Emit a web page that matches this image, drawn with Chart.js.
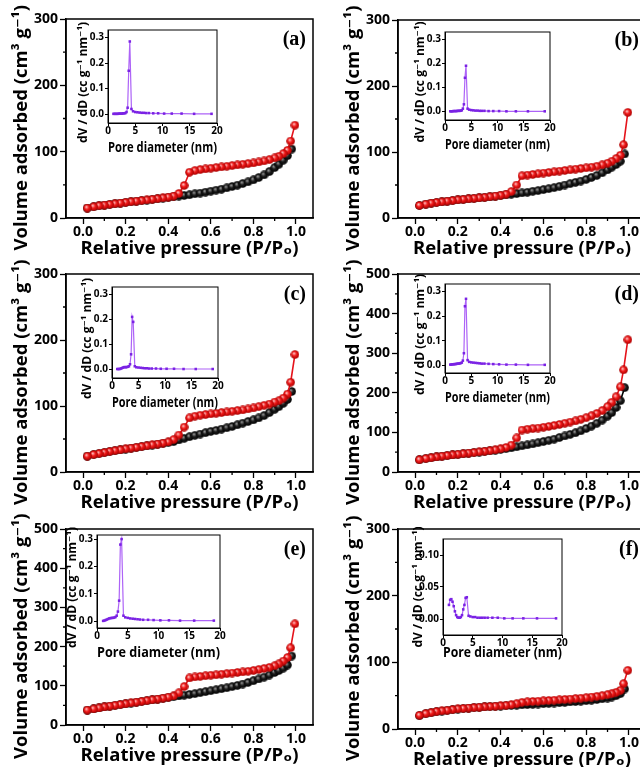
<!DOCTYPE html>
<html>
<head>
<meta charset="utf-8">
<title>N2 sorption isotherms (a)-(f)</title>
<script src="https://cdn.jsdelivr.net/npm/chart.js@4.4.1/dist/chart.umd.min.js"></script>
<style>
  html, body { margin: 0; padding: 0; background: #fff; }
  body { position: relative; width: 640px; height: 767px; overflow: hidden; }
  canvas { position: absolute; }
</style>
</head>
<body>
<script>
// ---- values ----

// relative pressure of the adsorption and desorption branches
const adsP = [0.02, 0.05, 0.075, 0.10, 0.125, 0.15, 0.175, 0.20, 0.225, 0.25, 0.275, 0.30, 0.325, 0.35, 0.375, 0.40, 0.425, 0.45, 0.475, 0.50,
  0.525, 0.55, 0.575, 0.60, 0.625, 0.65, 0.675, 0.70, 0.725, 0.75, 0.775, 0.80, 0.825, 0.85, 0.875, 0.90, 0.92, 0.94, 0.96, 0.98];
const desP = [0.995, 0.975, 0.96, 0.94, 0.92, 0.90, 0.875, 0.85, 0.825, 0.80, 0.775, 0.75, 0.725, 0.70, 0.675, 0.65, 0.625, 0.60, 0.575, 0.55,
  0.525, 0.50, 0.475, 0.45, 0.425, 0.40, 0.375, 0.35, 0.325, 0.30, 0.275, 0.25, 0.225, 0.20, 0.175, 0.15, 0.125, 0.10, 0.075, 0.05, 0.02];

// volume adsorbed (cm3/g)
const adsA = [15, 17, 18.5, 19.5, 20.5, 21.5, 22.5, 23.5, 24.5, 25.3, 26.2, 27, 28, 29, 30, 31, 32, 33, 34, 35,
  36.5, 37.5, 39, 40.5, 42, 43.5, 45.5, 47.5, 49.5, 52, 54.5, 57.5, 61, 65, 70, 76, 81, 87, 94, 104];
const desA = [140, 116, 102, 97, 93, 90.5, 88, 86, 84.5, 83, 82, 81, 80, 79, 78, 77, 76, 75, 74, 73,
  71.5, 69, 49, 37, 33, 31.5, 30.3, 29.2, 28.2, 27.2, 26.3, 25.4, 24.5, 23.5, 22.5, 21.5, 20.5, 19.5, 18.5, 17, 15];

const adsB = [19, 21, 22.5, 23.5, 24.5, 25.5, 26.5, 27.5, 28.3, 29, 29.8, 30.5, 31.3, 32, 33, 34, 35, 36, 37, 38,
  39, 40.5, 41.5, 43, 44.5, 46, 48, 50, 52, 54, 56, 58.5, 61.5, 64.5, 68.5, 73, 77, 81, 86, 97];
const desB = [160, 111, 95, 90, 86, 83, 80.5, 78.5, 77, 76, 75, 74, 73, 72, 71, 70, 69, 68, 67, 66,
  65, 64, 50, 40, 36, 34.5, 33.3, 32.2, 31.3, 30.5, 29.8, 29, 28.3, 27.5, 26.5, 25.5, 24.5, 23.5, 22.5, 21, 19];

const adsC = [24, 26.5, 28, 29.5, 31, 32.3, 33.5, 34.8, 36, 37.2, 38.4, 39.6, 40.8, 42, 43.3, 44.6, 46, 48.5, 51, 53.5,
  55.5, 57.5, 59.5, 61.5, 63, 65, 67, 69, 71.5, 74, 76.5, 79, 82, 85.5, 90, 95, 99, 104, 110, 122];
const desC = [178, 136, 118, 112, 108, 106, 103, 101, 99, 97, 95.5, 94, 93, 92, 91, 90, 89, 88, 87, 86,
  84.5, 82, 68, 56, 49, 45.5, 43.8, 42.4, 41.1, 39.8, 38.6, 37.4, 36.2, 35, 33.7, 32.4, 31, 29.5, 28, 26.5, 24];

const adsD = [31, 34, 36, 38, 40, 41.5, 43, 44.5, 46, 47.5, 49, 50.5, 52, 53.5, 55, 57, 59, 61, 63.5, 66,
  68.5, 71, 74, 77, 80, 83, 87, 91, 95, 99, 104, 110, 116, 123, 131, 141, 150, 163, 180, 213];
const desD = [334, 258, 215, 190, 176, 165, 155, 148, 142, 137, 133, 129, 126, 123, 120, 117.5, 115, 113, 111, 109.5,
  108, 106, 86, 68, 62, 58.5, 56, 54, 52.3, 50.7, 49.2, 47.7, 46.2, 44.7, 43.2, 41.6, 40, 38, 36, 34, 31];

const adsE = [38, 41, 43.5, 46, 48, 50, 52, 54, 56, 58, 60, 62, 64, 66, 68, 70, 72, 74, 76, 78,
  80, 82.5, 85, 87.5, 90, 92.5, 95, 98, 101, 104.5, 108.5, 113, 117.5, 122, 127.5, 134, 139, 145, 153, 176];
const desE = [258, 197, 172, 163, 156, 151, 147, 144, 141.5, 139, 137, 135.5, 134, 132.5, 131, 129.5, 128, 127, 125.5, 124,
  122.5, 120, 98, 82, 74, 71, 68.5, 66.3, 64.2, 62.2, 60.2, 58.2, 56.2, 54.2, 52.2, 50.2, 48.2, 46, 43.5, 41, 38];

const adsF = [20, 23, 24.5, 26, 27, 28, 29, 30, 30.7, 31.4, 32, 32.6, 33.1, 33.6, 34.1, 34.5, 35, 35.4, 35.8, 36.2,
  36.6, 37, 37.5, 38, 38.5, 39, 39.5, 40, 40.6, 41.2, 41.8, 42.5, 43.3, 44.2, 45.3, 46.5, 48, 50, 53, 60];
const desF = [88, 68, 58, 55, 53, 51.5, 50, 49, 48, 47, 46.3, 45.6, 45, 44.4, 43.8, 43.3, 42.8, 42.3, 41.8, 41.3,
  40.8, 40, 38, 36.5, 35.5, 34.8, 34.2, 33.7, 33.2, 32.7, 32.1, 31.5, 30.8, 30.1, 29.1, 28.1, 27.1, 26.1, 24.6, 23.1, 20.5];

// pore size distribution insets: diameter (nm) and dV/dD (cc/g/nm)
const poreD = [1.0, 1.2, 1.4, 1.6, 1.8, 2.0, 2.2, 2.4, 2.6, 2.8, 3.0, 3.2, 3.4, 3.6, 3.8, 4.0,
  4.3, 4.6, 5.0, 5.4, 5.8, 6.2, 6.6, 7.0, 7.5, 8.3, 9.2, 10.3, 11.7, 13.5, 15.8, 19.0];
const psdA = [0.001, 0.001, 0.001, 0.001, 0.001, 0.002, 0.002, 0.002, 0.002, 0.003, 0.003, 0.004, 0.008, 0.025, 0.17, 0.285,
  0.02, 0.011, 0.008, 0.007, 0.006, 0.005, 0.005, 0.004, 0.004, 0.003, 0.003, 0.002, 0.002, 0.002, 0.001, 0.001];
const psdB = [0.001, 0.001, 0.001, 0.002, 0.002, 0.002, 0.002, 0.003, 0.003, 0.003, 0.004, 0.005, 0.012, 0.03, 0.14, 0.19,
  0.012, 0.008, 0.006, 0.005, 0.004, 0.004, 0.003, 0.003, 0.003, 0.002, 0.002, 0.002, 0.001, 0.001, 0.001, 0.001];
const psdC = [0.001, 0.001, 0.001, 0.002, 0.004, 0.006, 0.008, 0.009, 0.008, 0.009, 0.010, 0.012, 0.02, 0.06, 0.21, 0.19,
  0.012, 0.008, 0.007, 0.006, 0.005, 0.004, 0.004, 0.003, 0.003, 0.003, 0.002, 0.002, 0.002, 0.001, 0.001, 0.001];
const psdD = [0.004, 0.004, 0.005, 0.005, 0.006, 0.006, 0.007, 0.008, 0.008, 0.009, 0.010, 0.012, 0.02, 0.05, 0.24, 0.27,
  0.022, 0.015, 0.013, 0.012, 0.011, 0.010, 0.009, 0.008, 0.008, 0.007, 0.006, 0.005, 0.004, 0.004, 0.003, 0.003];
const psdE = [0.001, 0.002, 0.004, 0.006, 0.008, 0.010, 0.011, 0.012, 0.012, 0.013, 0.015, 0.020, 0.035, 0.075, 0.28, 0.30,
  0.02, 0.014, 0.012, 0.010, 0.009, 0.008, 0.007, 0.006, 0.005, 0.005, 0.004, 0.003, 0.003, 0.002, 0.002, 0.002];
const psdF = [0.022, 0.030, 0.031, 0.027, 0.020, 0.012, 0.006, 0.003, 0.002, 0.002, 0.003, 0.006, 0.015, 0.022, 0.033, 0.034,
  0.005, 0.004, 0.003, 0.003, 0.002, 0.002, 0.002, 0.002, 0.002, 0.002, 0.002, 0.001, 0.001, 0.001, 0.001, 0.001];

// tick labels
const pressTicks = [0, 0.2, 0.4, 0.6, 0.8, 1.0];
const pressMinor = [0.1, 0.3, 0.5, 0.7, 0.9];
const vol300Ticks = [0, 100, 200, 300];
const vol300Minor = [50, 150, 250];
const vol500Ticks = [0, 100, 200, 300, 400, 500];
const vol500Minor = [50, 150, 250, 350, 450];
const poreTicks = [0, 5, 10, 15, 20];
const psdTicks = [0, 0.1, 0.2, 0.3];
const psdTicksF = [0, 0.05, 0.10];

// ---- layout ----
const FONT = '"Open Sans", "DejaVu Sans", sans-serif';
const EM = '\u2003';  // trailing em space nudges a rotated title a little down

const panels = [
  { tag: '(a)', area: [66, 19, 313, 218], yMax: 300, yTicks: vol300Ticks, yMinor: vol300Minor, ads: adsA, des: desA,
    box: [108, 30, 217, 123], psd: psdA, psdMin: -0.035, psdMax: 0.33, psdTicks: psdTicks, psdDigits: 1, psdTitleGap: 34, nudge: EM },
  { tag: '(b)', area: [398, 20, 646, 218], yMax: 300, yTicks: vol300Ticks, yMinor: vol300Minor, ads: adsB, des: desB,
    box: [445, 32, 550, 120], psd: psdB, psdMin: -0.035, psdMax: 0.33, psdTicks: psdTicks, psdDigits: 1, psdTitleGap: 34, nudge: EM },
  { tag: '(c)', area: [66, 274, 313, 472], yMax: 300, yTicks: vol300Ticks, yMinor: vol300Minor, ads: adsC, des: desC,
    box: [112, 287, 218, 378], psd: psdC, psdMin: -0.035, psdMax: 0.33, psdTicks: psdTicks, psdDigits: 1, psdTitleGap: 34, nudge: EM },
  { tag: '(d)', area: [398, 274, 646, 472], yMax: 500, yTicks: vol500Ticks, yMinor: vol500Minor, ads: adsD, des: desD,
    box: [445, 284, 550, 373], psd: psdD, psdMin: -0.03, psdMax: 0.33, psdTicks: psdTicks, psdDigits: 1, psdTitleGap: 34, nudge: EM },
  { tag: '(e)', area: [66, 529, 313, 725], yMax: 500, yTicks: vol500Ticks, yMinor: vol500Minor, ads: adsE, des: desE,
    box: [97, 535, 220, 628], psd: psdE, psdMin: -0.025, psdMax: 0.315, psdTicks: psdTicks, psdDigits: 1, psdTitleGap: 34, nudge: EM },
  { tag: '(f)', area: [398, 529, 646, 729], yMax: 300, yTicks: vol300Ticks, yMinor: vol300Minor, ads: adsF, des: desF,
    box: [443, 539, 562, 635], psd: psdF, psdMin: -0.025, psdMax: 0.125, psdTicks: psdTicksF, psdDigits: 2, psdTitleGap: 27, nudge: '' }
];

// shaded ball markers like the original plot
function ball(base, rim, glint) {
  const c = document.createElement('canvas');
  c.width = c.height = 9;
  const g = c.getContext('2d');
  const grad = g.createRadialGradient(3.4, 3.2, 0.2, 4.5, 4.5, 4.6);
  grad.addColorStop(0, glint);
  grad.addColorStop(0.45, base);
  grad.addColorStop(1, rim);
  g.fillStyle = grad;
  g.beginPath();
  g.arc(4.5, 4.5, 4.3, 0, Math.PI * 2);
  g.fill();
  return c;
}
const redBall = ball('#f01818', '#a00000', '#ffc8c8');
const blackBall = ball('#1c1c1c', '#000000', '#9c9c9c');

// plot frame (top/right lines too)
const frame = {
  id: 'frame',
  afterDatasetsDraw(chart, args, opts) {
    const { ctx, chartArea: a } = chart;
    ctx.save();
    ctx.strokeStyle = '#000';
    ctx.lineWidth = opts.width;
    ctx.strokeRect(a.left, a.top, a.right - a.left, a.bottom - a.top);
    ctx.restore();
  }
};

// short outward minor ticks
const minorTicks = {
  id: 'minorTicks',
  afterDraw(chart, args, opts) {
    if (!opts.x) return;
    const { ctx, chartArea: a, scales } = chart;
    ctx.save();
    ctx.strokeStyle = '#000';
    ctx.lineWidth = opts.width;
    ctx.beginPath();
    opts.x.forEach(v => {
      const px = scales.x.getPixelForValue(v);
      ctx.moveTo(px, a.bottom);
      ctx.lineTo(px, a.bottom + opts.len);
    });
    opts.y.forEach(v => {
      const py = scales.y.getPixelForValue(v);
      ctx.moveTo(a.left, py);
      ctx.lineTo(a.left - opts.len, py);
    });
    ctx.stroke();
    ctx.restore();
  }
};

// panel letter in the top right corner
const panelTag = {
  id: 'panelTag',
  afterDraw(chart, args, opts) {
    if (!opts.text) return;
    const { ctx, chartArea: a } = chart;
    ctx.save();
    ctx.font = 'bold 20px "Liberation Serif", "Times New Roman", serif';
    ctx.fillStyle = '#000';
    ctx.textAlign = 'right';
    ctx.textBaseline = 'middle';
    ctx.fillText(opts.text, a.right - 7, a.top + 21);
    ctx.restore();
  }
};

function placeCanvas(left, top, w, h) {
  const cv = document.createElement('canvas');
  cv.width = w;
  cv.height = h;
  cv.style.left = left + 'px';
  cv.style.top = top + 'px';
  cv.style.width = w + 'px';
  cv.style.height = h + 'px';
  document.body.appendChild(cv);
  return cv;
}

function makeMain(p) {
  const [l, t, r, b] = p.area;
  const padL = 66, padT = 30, padR = 10, padB = 42;
  const cv = placeCanvas(l - padL, t - padT, r - l + padL + padR, b - t + padT + padB);
  const tickFont = { family: FONT, size: 14, weight: 'bold' };
  const titleFont = { family: FONT, size: 18.5, weight: 'bold' };

  new Chart(cv, {
    type: 'scatter',
    data: {
      datasets: [
        { data: desP.map((x, i) => ({ x, y: p.des[i] })), showLine: true, borderColor: '#e5131b', borderWidth: 1.6,
          pointStyle: redBall, pointRadius: 4.5 },
        { data: adsP.map((x, i) => ({ x, y: p.ads[i] })), showLine: true, borderColor: '#000', borderWidth: 1.6,
          pointStyle: blackBall, pointRadius: 4.5 }
      ]
    },
    options: {
      responsive: false,
      animation: false,
      events: [],
      layout: { padding: { left: 0, top: padT, right: padR, bottom: 0 } },
      plugins: {
        legend: { display: false },
        tooltip: { enabled: false },
        frame: { width: 1.5 },
        minorTicks: { x: pressMinor, y: p.yMinor, len: 3, width: 1.3 },
        panelTag: { text: p.tag }
      },
      scales: {
        x: {
          type: 'linear', min: -0.08, max: 1.08,
          afterBuildTicks: s => { s.ticks = pressTicks.map(v => ({ value: v })); },
          afterFit: s => { s.height = padB; },
          grid: { display: true, drawOnChartArea: false, drawTicks: true, tickLength: 6, tickColor: '#000', tickWidth: 1.3 },
          border: { display: true, color: '#000', width: 1.5 },
          ticks: { color: '#000', font: tickFont, padding: 0, maxRotation: 0, callback: v => v.toFixed(1) },
          title: { display: true, text: 'Relative pressure (P/Pₒ)', color: '#000', font: titleFont, padding: { top: 0, bottom: 0 } }
        },
        y: {
          type: 'linear', min: 0, max: p.yMax,
          afterBuildTicks: s => { s.ticks = p.yTicks.map(v => ({ value: v })); },
          afterFit: s => { s.width = padL; },
          grid: { display: true, drawOnChartArea: false, drawTicks: true, tickLength: 6, tickColor: '#000', tickWidth: 1.3 },
          border: { display: true, color: '#000', width: 1.5 },
          ticks: { color: '#000', font: tickFont, padding: 2, callback: v => String(v) },
          title: { display: true, text: 'Volume adsorbed (cm³ g⁻¹)' + EM, color: '#000', font: titleFont, padding: { top: 11, bottom: 0 } }
        }
      }
    },
    plugins: [frame, minorTicks, panelTag]
  });
}

function makeInset(p) {
  const [l, t, r, b] = p.box;
  const padL = 36, padT = 34, padR = 8, padB = p.psdTitleGap;
  const cv = placeCanvas(l - padL, t - padT, r - l + padL + padR, b - t + padT + padB);
  const tickFont = { family: FONT, size: 10, weight: 'bold' };

  new Chart(cv, {
    type: 'scatter',
    data: {
      datasets: [{
        data: poreD.map((x, i) => ({ x, y: p.psd[i] })),
        showLine: true, borderColor: '#ad63f7', borderWidth: 1.2,
        pointStyle: 'rect', pointRadius: 1.8, pointBorderWidth: 0,
        pointBackgroundColor: '#7a22e4', pointBorderColor: '#7a22e4'
      }]
    },
    options: {
      responsive: false,
      animation: false,
      events: [],
      layout: { padding: { left: 0, top: padT, right: padR, bottom: 0 } },
      plugins: {
        legend: { display: false },
        tooltip: { enabled: false },
        frame: { width: 1 }
      },
      scales: {
        x: {
          type: 'linear', min: 0, max: 20,
          afterBuildTicks: s => { s.ticks = poreTicks.map(v => ({ value: v })); },
          afterFit: s => { s.height = padB; },
          grid: { display: true, drawOnChartArea: false, drawTicks: true, tickLength: 3, tickColor: '#000', tickWidth: 1 },
          border: { display: true, color: '#000', width: 1 },
          ticks: { color: '#000', font: tickFont, padding: -1, maxRotation: 0, callback: v => String(v) },
          title: { display: true, text: 'Pore diameter (nm)', color: '#000', font: { family: FONT, size: 14, weight: 'bold' },
            padding: { top: 0, bottom: 1 } }
        },
        y: {
          type: 'linear', min: p.psdMin, max: p.psdMax,
          afterBuildTicks: s => { s.ticks = p.psdTicks.map(v => ({ value: v })); },
          afterFit: s => { s.width = padL; },
          grid: { display: true, drawOnChartArea: false, drawTicks: true, tickLength: 3, tickColor: '#000', tickWidth: 1 },
          border: { display: true, color: '#000', width: 1 },
          ticks: { color: '#000', font: tickFont, padding: 1, callback: v => v.toFixed(p.psdDigits) },
          title: { display: true, text: 'dV / dD (cc g⁻¹ nm⁻¹)' + p.nudge, color: '#000', font: { family: FONT, size: 12, weight: 'bold' },
            padding: { top: 4, bottom: 0 } }
        }
      }
    },
    plugins: [frame]
  });
}

panels.forEach(p => { makeMain(p); makeInset(p); });
</script>
</body>
</html>
